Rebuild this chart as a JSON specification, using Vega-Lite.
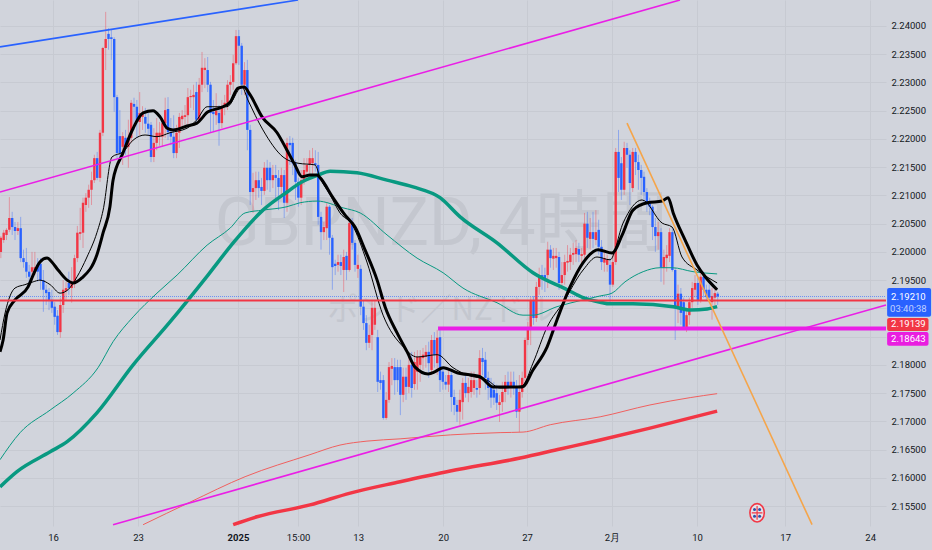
{
"$schema":"https://vega.github.io/schema/vega-lite/v6.json",
"width":886,"height":526,
"autosize":"none",
"padding":{"left":0,"top":0,"right":46,"bottom":24},
"background":"#d1d4dc",
"view":{"stroke":null},
"config":{"axis":{"labelFont":"Roboto","labelFontSize":9.5,"labelColor":"#131722"}},
"datasets":{
"candles":[
{"b":0,"o":2.2000,"h":2.2028,"l":2.1989,"c":2.2025},{"b":1,"o":2.2021,"h":2.2039,"l":2.2016,"c":2.2034},{"b":2,"o":2.2030,"h":2.2042,"l":2.2021,"c":2.2039},{"b":3,"o":2.2039,"h":2.2097,"l":2.2035,"c":2.2060},{"b":4,"o":2.2060,"h":2.2071,"l":2.2030,"c":2.2044},{"b":5,"o":2.2044,"h":2.2053,"l":2.2021,"c":2.2037},{"b":6,"o":2.2037,"h":2.2053,"l":2.2030,"c":2.2042},{"b":7,"o":2.2042,"h":2.2062,"l":2.1982,"c":2.1989},{"b":8,"o":2.1989,"h":2.2004,"l":2.1972,"c":2.1982},{"b":9,"o":2.1982,"h":2.2007,"l":2.1954,"c":2.1965},
{"b":10,"o":2.1965,"h":2.1977,"l":2.1945,"c":2.1956},{"b":11,"o":2.1965,"h":2.2000,"l":2.1950,"c":2.1973},{"b":12,"o":2.1968,"h":2.2000,"l":2.1959,"c":2.1973},{"b":13,"o":2.1977,"h":2.1989,"l":2.1947,"c":2.1965},{"b":14,"o":2.1979,"h":2.1989,"l":2.1933,"c":2.1950},{"b":15,"o":2.1950,"h":2.1968,"l":2.1894,"c":2.1933},{"b":16,"o":2.1933,"h":2.1942,"l":2.1906,"c":2.1927},{"b":17,"o":2.1929,"h":2.1936,"l":2.1897,"c":2.1915},{"b":18,"o":2.1915,"h":2.1933,"l":2.1892,"c":2.1901},{"b":19,"o":2.1903,"h":2.1911,"l":2.1871,"c":2.1885},
{"b":20,"o":2.1887,"h":2.1897,"l":2.1853,"c":2.1858},{"b":21,"o":2.1858,"h":2.1919,"l":2.1848,"c":2.1906},{"b":22,"o":2.1906,"h":2.1950,"l":2.1892,"c":2.1933},{"b":23,"o":2.1931,"h":2.1947,"l":2.1915,"c":2.1936},{"b":24,"o":2.1945,"h":2.1965,"l":2.1924,"c":2.1936},{"b":25,"o":2.1936,"h":2.1973,"l":2.1910,"c":2.1945},{"b":26,"o":2.1945,"h":2.1995,"l":2.1936,"c":2.1989},{"b":27,"o":2.1989,"h":2.2046,"l":2.1982,"c":2.2034},{"b":28,"o":2.2032,"h":2.2078,"l":2.2021,"c":2.2035},{"b":29,"o":2.2034,"h":2.2096,"l":2.2007,"c":2.2087},
{"b":30,"o":2.2083,"h":2.2104,"l":2.2071,"c":2.2096},{"b":31,"o":2.2096,"h":2.2119,"l":2.2078,"c":2.2110},{"b":32,"o":2.2110,"h":2.2142,"l":2.2083,"c":2.2127},{"b":33,"o":2.2127,"h":2.2172,"l":2.2122,"c":2.2166},{"b":34,"o":2.2166,"h":2.2177,"l":2.2127,"c":2.2131},{"b":35,"o":2.2131,"h":2.2216,"l":2.2124,"c":2.2211},{"b":36,"o":2.2211,"h":2.2363,"l":2.2205,"c":2.2361},{"b":37,"o":2.2361,"h":2.2425,"l":2.2322,"c":2.2377},{"b":38,"o":2.2386,"h":2.2396,"l":2.2358,"c":2.2377},{"b":39,"o":2.2380,"h":2.2393,"l":2.2340,"c":2.2377},
{"b":40,"o":2.2377,"h":2.2380,"l":2.2248,"c":2.2274},{"b":41,"o":2.2274,"h":2.2278,"l":2.2166,"c":2.2175},{"b":42,"o":2.2205,"h":2.2251,"l":2.2163,"c":2.2175},{"b":43,"o":2.2186,"h":2.2212,"l":2.2154,"c":2.2205},{"b":44,"o":2.2202,"h":2.2216,"l":2.2172,"c":2.2186},{"b":45,"o":2.2186,"h":2.2234,"l":2.2149,"c":2.2202},{"b":46,"o":2.2202,"h":2.2269,"l":2.2193,"c":2.2264},{"b":47,"o":2.2262,"h":2.2273,"l":2.2216,"c":2.2257},{"b":48,"o":2.2257,"h":2.2269,"l":2.2202,"c":2.2230},{"b":49,"o":2.2230,"h":2.2283,"l":2.2207,"c":2.2246},
{"b":50,"o":2.2239,"h":2.2258,"l":2.2216,"c":2.2246},{"b":51,"o":2.2239,"h":2.2255,"l":2.2211,"c":2.2227},{"b":52,"o":2.2227,"h":2.2248,"l":2.2207,"c":2.2218},{"b":53,"o":2.2225,"h":2.2230,"l":2.2159,"c":2.2168},{"b":54,"o":2.2168,"h":2.2219,"l":2.2159,"c":2.2193},{"b":55,"o":2.2193,"h":2.2237,"l":2.2180,"c":2.2211},{"b":56,"o":2.2205,"h":2.2230,"l":2.2188,"c":2.2211},{"b":57,"o":2.2204,"h":2.2237,"l":2.2186,"c":2.2228},{"b":58,"o":2.2228,"h":2.2273,"l":2.2202,"c":2.2251},{"b":59,"o":2.2253,"h":2.2274,"l":2.2198,"c":2.2212},
{"b":60,"o":2.2212,"h":2.2237,"l":2.2189,"c":2.2204},{"b":61,"o":2.2204,"h":2.2242,"l":2.2166,"c":2.2175},{"b":62,"o":2.2175,"h":2.2225,"l":2.2166,"c":2.2211},{"b":63,"o":2.2211,"h":2.2246,"l":2.2184,"c":2.2239},{"b":64,"o":2.2235,"h":2.2251,"l":2.2219,"c":2.2241},{"b":65,"o":2.2239,"h":2.2260,"l":2.2225,"c":2.2242},{"b":66,"o":2.2242,"h":2.2290,"l":2.2225,"c":2.2274},{"b":67,"o":2.2274,"h":2.2287,"l":2.2255,"c":2.2276},{"b":68,"o":2.2274,"h":2.2296,"l":2.2251,"c":2.2278},{"b":69,"o":2.2283,"h":2.2301,"l":2.2225,"c":2.2234},
{"b":70,"o":2.2234,"h":2.2308,"l":2.2230,"c":2.2296},{"b":71,"o":2.2296,"h":2.2354,"l":2.2283,"c":2.2326},{"b":72,"o":2.2322,"h":2.2343,"l":2.2290,"c":2.2326},{"b":73,"o":2.2322,"h":2.2345,"l":2.2283,"c":2.2296},{"b":74,"o":2.2296,"h":2.2301,"l":2.2212,"c":2.2246},{"b":75,"o":2.2248,"h":2.2269,"l":2.2212,"c":2.2244},{"b":76,"o":2.2242,"h":2.2281,"l":2.2225,"c":2.2250},{"b":77,"o":2.2246,"h":2.2260,"l":2.2188,"c":2.2228},{"b":78,"o":2.2228,"h":2.2269,"l":2.2219,"c":2.2257},{"b":79,"o":2.2257,"h":2.2278,"l":2.2242,"c":2.2264},
{"b":80,"o":2.2264,"h":2.2304,"l":2.2251,"c":2.2296},{"b":81,"o":2.2296,"h":2.2313,"l":2.2278,"c":2.2301},{"b":82,"o":2.2301,"h":2.2349,"l":2.2287,"c":2.2334},{"b":83,"o":2.2334,"h":2.2393,"l":2.2331,"c":2.2382},{"b":84,"o":2.2382,"h":2.2393,"l":2.2331,"c":2.2365},{"b":85,"o":2.2365,"h":2.2370,"l":2.2278,"c":2.2296},{"b":86,"o":2.2296,"h":2.2336,"l":2.2278,"c":2.2322},{"b":87,"o":2.2322,"h":2.2340,"l":2.2180,"c":2.2216},{"b":88,"o":2.2216,"h":2.2225,"l":2.2083,"c":2.2106},{"b":89,"o":2.2106,"h":2.2140,"l":2.2069,"c":2.2113},
{"b":90,"o":2.2113,"h":2.2142,"l":2.2092,"c":2.2127},{"b":91,"o":2.2127,"h":2.2142,"l":2.2096,"c":2.2113},{"b":92,"o":2.2115,"h":2.2131,"l":2.2083,"c":2.2108},{"b":93,"o":2.2108,"h":2.2159,"l":2.2101,"c":2.2149},{"b":94,"o":2.2149,"h":2.2163,"l":2.2110,"c":2.2127},{"b":95,"o":2.2149,"h":2.2159,"l":2.2106,"c":2.2127},{"b":96,"o":2.2127,"h":2.2154,"l":2.2113,"c":2.2136},{"b":97,"o":2.2136,"h":2.2154,"l":2.2092,"c":2.2131},{"b":98,"o":2.2131,"h":2.2145,"l":2.2074,"c":2.2115},{"b":99,"o":2.2115,"h":2.2149,"l":2.2101,"c":2.2136},
{"b":100,"o":2.2136,"h":2.2145,"l":2.2060,"c":2.2087},{"b":101,"o":2.2087,"h":2.2202,"l":2.2071,"c":2.2193},{"b":102,"o":2.2193,"h":2.2205,"l":2.2154,"c":2.2189},{"b":103,"o":2.2193,"h":2.2202,"l":2.2136,"c":2.2157},{"b":104,"o":2.2157,"h":2.2163,"l":2.2092,"c":2.2124},{"b":105,"o":2.2124,"h":2.2131,"l":2.2080,"c":2.2096},{"b":106,"o":2.2096,"h":2.2145,"l":2.2083,"c":2.2127},{"b":107,"o":2.2127,"h":2.2166,"l":2.2119,"c":2.2145},{"b":108,"o":2.2142,"h":2.2166,"l":2.2127,"c":2.2154},{"b":109,"o":2.2154,"h":2.2180,"l":2.2131,"c":2.2166},
{"b":110,"o":2.2157,"h":2.2184,"l":2.2131,"c":2.2166},{"b":111,"o":2.2157,"h":2.2180,"l":2.2142,"c":2.2154},{"b":112,"o":2.2154,"h":2.2177,"l":2.2048,"c":2.2062},{"b":113,"o":2.2062,"h":2.2071,"l":2.2004,"c":2.2035},{"b":114,"o":2.2035,"h":2.2053,"l":2.2021,"c":2.2044},{"b":115,"o":2.2042,"h":2.2087,"l":2.2021,"c":2.2080},{"b":116,"o":2.2080,"h":2.2083,"l":2.1995,"c":2.2025},{"b":117,"o":2.2025,"h":2.2030,"l":2.1933,"c":2.1973},{"b":118,"o":2.1979,"h":2.1986,"l":2.1959,"c":2.1975},{"b":119,"o":2.1977,"h":2.1995,"l":2.1965,"c":2.1982},
{"b":120,"o":2.1982,"h":2.1995,"l":2.1959,"c":2.1975},{"b":121,"o":2.1968,"h":2.2004,"l":2.1929,"c":2.1991},{"b":122,"o":2.1993,"h":2.2000,"l":2.1950,"c":2.1968},{"b":123,"o":2.1968,"h":2.2060,"l":2.1965,"c":2.2051},{"b":124,"o":2.2053,"h":2.2060,"l":2.2004,"c":2.2016},{"b":125,"o":2.2016,"h":2.2021,"l":2.1965,"c":2.1977},{"b":126,"o":2.1970,"h":2.1995,"l":2.1954,"c":2.1977},{"b":127,"o":2.1970,"h":2.1977,"l":2.1888,"c":2.1903},{"b":128,"o":2.1903,"h":2.1915,"l":2.1862,"c":2.1874},{"b":129,"o":2.1874,"h":2.1888,"l":2.1826,"c":2.1839},
{"b":130,"o":2.1839,"h":2.1871,"l":2.1830,"c":2.1853},{"b":131,"o":2.1853,"h":2.1915,"l":2.1826,"c":2.1901},{"b":132,"o":2.1871,"h":2.1915,"l":2.1862,"c":2.1901},{"b":133,"o":2.1849,"h":2.1862,"l":2.1752,"c":2.1770},{"b":134,"o":2.1773,"h":2.1788,"l":2.1756,"c":2.1768},{"b":135,"o":2.1773,"h":2.1782,"l":2.1703,"c":2.1706},{"b":136,"o":2.1706,"h":2.1752,"l":2.1703,"c":2.1738},{"b":137,"o":2.1738,"h":2.1805,"l":2.1733,"c":2.1796},{"b":138,"o":2.1793,"h":2.1812,"l":2.1764,"c":2.1798},{"b":139,"o":2.1796,"h":2.1812,"l":2.1747,"c":2.1773},
{"b":140,"o":2.1796,"h":2.1809,"l":2.1752,"c":2.1773},{"b":141,"o":2.1796,"h":2.1809,"l":2.1711,"c":2.1747},{"b":142,"o":2.1747,"h":2.1795,"l":2.1734,"c":2.1779},{"b":143,"o":2.1779,"h":2.1795,"l":2.1738,"c":2.1761},{"b":144,"o":2.1761,"h":2.1818,"l":2.1750,"c":2.1800},{"b":145,"o":2.1800,"h":2.1823,"l":2.1742,"c":2.1759},{"b":146,"o":2.1766,"h":2.1823,"l":2.1756,"c":2.1805},{"b":147,"o":2.1788,"h":2.1826,"l":2.1756,"c":2.1814},{"b":148,"o":2.1800,"h":2.1826,"l":2.1770,"c":2.1814},{"b":149,"o":2.1812,"h":2.1830,"l":2.1791,"c":2.1818},
{"b":150,"o":2.1814,"h":2.1835,"l":2.1795,"c":2.1823},{"b":151,"o":2.1823,"h":2.1841,"l":2.1777,"c":2.1803},{"b":152,"o":2.1791,"h":2.1853,"l":2.1782,"c":2.1844},{"b":153,"o":2.1844,"h":2.1858,"l":2.1795,"c":2.1818},{"b":154,"o":2.1803,"h":2.1862,"l":2.1782,"c":2.1848},{"b":155,"o":2.1849,"h":2.1862,"l":2.1752,"c":2.1773},{"b":156,"o":2.1788,"h":2.1795,"l":2.1756,"c":2.1770},{"b":157,"o":2.1770,"h":2.1782,"l":2.1756,"c":2.1765},{"b":158,"o":2.1765,"h":2.1795,"l":2.1752,"c":2.1782},{"b":159,"o":2.1782,"h":2.1791,"l":2.1717,"c":2.1743},
{"b":160,"o":2.1743,"h":2.1756,"l":2.1711,"c":2.1729},{"b":161,"o":2.1729,"h":2.1738,"l":2.1699,"c":2.1717},{"b":162,"o":2.1717,"h":2.1756,"l":2.1694,"c":2.1738},{"b":163,"o":2.1734,"h":2.1777,"l":2.1703,"c":2.1768},{"b":164,"o":2.1768,"h":2.1782,"l":2.1742,"c":2.1750},{"b":165,"o":2.1750,"h":2.1777,"l":2.1734,"c":2.1761},{"b":166,"o":2.1752,"h":2.1788,"l":2.1742,"c":2.1773},{"b":167,"o":2.1759,"h":2.1788,"l":2.1747,"c":2.1773},{"b":168,"o":2.1759,"h":2.1773,"l":2.1742,"c":2.1756},{"b":169,"o":2.1759,"h":2.1826,"l":2.1747,"c":2.1812},
{"b":170,"o":2.1812,"h":2.1830,"l":2.1782,"c":2.1805},{"b":171,"o":2.1809,"h":2.1823,"l":2.1756,"c":2.1777},{"b":172,"o":2.1777,"h":2.1788,"l":2.1738,"c":2.1759},{"b":173,"o":2.1761,"h":2.1777,"l":2.1724,"c":2.1742},{"b":174,"o":2.1756,"h":2.1770,"l":2.1729,"c":2.1742},{"b":175,"o":2.1750,"h":2.1765,"l":2.1720,"c":2.1733},{"b":176,"o":2.1729,"h":2.1747,"l":2.1699,"c":2.1734},{"b":177,"o":2.1734,"h":2.1770,"l":2.1717,"c":2.1752},{"b":178,"o":2.1752,"h":2.1782,"l":2.1734,"c":2.1770},{"b":179,"o":2.1770,"h":2.1788,"l":2.1747,"c":2.1761},
{"b":180,"o":2.1759,"h":2.1788,"l":2.1742,"c":2.1770},{"b":181,"o":2.1770,"h":2.1788,"l":2.1747,"c":2.1759},{"b":182,"o":2.1759,"h":2.1773,"l":2.1706,"c":2.1717},{"b":183,"o":2.1717,"h":2.1782,"l":2.1681,"c":2.1752},{"b":184,"o":2.1752,"h":2.1788,"l":2.1742,"c":2.1777},{"b":185,"o":2.1777,"h":2.1848,"l":2.1770,"c":2.1844},{"b":186,"o":2.1844,"h":2.1876,"l":2.1835,"c":2.1865},{"b":187,"o":2.1867,"h":2.1920,"l":2.1835,"c":2.1915},{"b":188,"o":2.1915,"h":2.1922,"l":2.1871,"c":2.1883},{"b":189,"o":2.1883,"h":2.1947,"l":2.1876,"c":2.1938},
{"b":190,"o":2.1938,"h":2.1972,"l":2.1924,"c":2.1959},{"b":191,"o":2.1959,"h":2.1977,"l":2.1933,"c":2.1956},{"b":192,"o":2.1959,"h":2.1972,"l":2.1929,"c":2.1952},{"b":193,"o":2.1959,"h":2.2018,"l":2.1936,"c":2.2004},{"b":194,"o":2.2004,"h":2.2012,"l":2.1972,"c":2.1989},{"b":195,"o":2.1988,"h":2.2007,"l":2.1968,"c":2.1993},{"b":196,"o":2.1989,"h":2.2007,"l":2.1972,"c":2.1993},{"b":197,"o":2.1991,"h":2.2000,"l":2.1933,"c":2.1945},{"b":198,"o":2.1945,"h":2.1982,"l":2.1936,"c":2.1959},{"b":199,"o":2.1959,"h":2.1995,"l":2.1942,"c":2.1982},
{"b":200,"o":2.1981,"h":2.2012,"l":2.1965,"c":2.1984},{"b":201,"o":2.1982,"h":2.2007,"l":2.1968,"c":2.1995},{"b":202,"o":2.1995,"h":2.2016,"l":2.1977,"c":2.1998},{"b":203,"o":2.1996,"h":2.2021,"l":2.1982,"c":2.2007},{"b":204,"o":2.2005,"h":2.2016,"l":2.1982,"c":2.1995},{"b":205,"o":2.1993,"h":2.2007,"l":2.1977,"c":2.1996},{"b":206,"o":2.1995,"h":2.2069,"l":2.1982,"c":2.2050},{"b":207,"o":2.2050,"h":2.2071,"l":2.2007,"c":2.2025},{"b":208,"o":2.2023,"h":2.2060,"l":2.2004,"c":2.2035},{"b":209,"o":2.2035,"h":2.2071,"l":2.2007,"c":2.2023},
{"b":210,"o":2.2021,"h":2.2074,"l":2.2012,"c":2.2035},{"b":211,"o":2.2039,"h":2.2057,"l":2.1995,"c":2.2009},{"b":212,"o":2.2009,"h":2.2021,"l":2.1968,"c":2.1982},{"b":213,"o":2.1981,"h":2.2004,"l":2.1965,"c":2.1989},{"b":214,"o":2.1977,"h":2.1995,"l":2.1965,"c":2.1986},{"b":215,"o":2.1977,"h":2.1989,"l":2.1910,"c":2.1942},{"b":216,"o":2.1942,"h":2.1995,"l":2.1938,"c":2.1982},{"b":217,"o":2.1982,"h":2.2184,"l":2.1977,"c":2.2177},{"b":218,"o":2.2177,"h":2.2216,"l":2.2106,"c":2.2131},{"b":219,"o":2.2157,"h":2.2168,"l":2.2092,"c":2.2110},
{"b":220,"o":2.2110,"h":2.2195,"l":2.2101,"c":2.2184},{"b":221,"o":2.2184,"h":2.2193,"l":2.2149,"c":2.2172},{"b":222,"o":2.2172,"h":2.2180,"l":2.2083,"c":2.2122},{"b":223,"o":2.2113,"h":2.2184,"l":2.2106,"c":2.2177},{"b":224,"o":2.2177,"h":2.2184,"l":2.2136,"c":2.2159},{"b":225,"o":2.2159,"h":2.2172,"l":2.2110,"c":2.2145},{"b":226,"o":2.2145,"h":2.2154,"l":2.2101,"c":2.2131},{"b":227,"o":2.2133,"h":2.2142,"l":2.2083,"c":2.2106},{"b":228,"o":2.2106,"h":2.2113,"l":2.2071,"c":2.2088},{"b":229,"o":2.2088,"h":2.2096,"l":2.2065,"c":2.2080},
{"b":230,"o":2.2080,"h":2.2083,"l":2.2021,"c":2.2044},{"b":231,"o":2.2044,"h":2.2060,"l":2.2000,"c":2.2028},{"b":232,"o":2.2028,"h":2.2053,"l":2.2004,"c":2.2035},{"b":233,"o":2.2035,"h":2.2042,"l":2.1947,"c":2.1972},{"b":234,"o":2.1972,"h":2.2004,"l":2.1942,"c":2.1991},{"b":235,"o":2.1989,"h":2.2012,"l":2.1965,"c":2.1995},{"b":236,"o":2.1993,"h":2.2042,"l":2.1982,"c":2.2035},{"b":237,"o":2.2035,"h":2.2042,"l":2.1965,"c":2.1968},{"b":238,"o":2.1968,"h":2.1972,"l":2.1844,"c":2.1901},{"b":239,"o":2.1901,"h":2.1942,"l":2.1874,"c":2.1926},
{"b":240,"o":2.1926,"h":2.1936,"l":2.1871,"c":2.1892},{"b":241,"o":2.1911,"h":2.1919,"l":2.1862,"c":2.1867},{"b":242,"o":2.1867,"h":2.1897,"l":2.1858,"c":2.1888},{"b":243,"o":2.1888,"h":2.1919,"l":2.1871,"c":2.1911},{"b":244,"o":2.1911,"h":2.1947,"l":2.1901,"c":2.1936},{"b":245,"o":2.1933,"h":2.1959,"l":2.1919,"c":2.1945},{"b":246,"o":2.1945,"h":2.1954,"l":2.1906,"c":2.1915},{"b":247,"o":2.1915,"h":2.1965,"l":2.1910,"c":2.1956},{"b":248,"o":2.1956,"h":2.1965,"l":2.1919,"c":2.1933},{"b":249,"o":2.1933,"h":2.1942,"l":2.1915,"c":2.1920},
{"b":250,"o":2.1933,"h":2.1942,"l":2.1910,"c":2.1919},{"b":251,"o":2.1911,"h":2.1936,"l":2.1880,"c":2.1922},{"b":252,"o":2.1919,"h":2.1936,"l":2.1906,"c":2.1927},{"b":253,"o":2.1926,"h":2.1929,"l":2.1906,"c":2.1921}
],
"lines":[
{"s":"ma200b","b":50.2,"p":2.1517},{"s":"ma200b","b":66.8,"p":2.1557},{"s":"ma200b","b":86.2,"p":2.1602},{"s":"ma200b","b":109.1,"p":2.1641},{"s":"ma200b","b":119.7,"p":2.1658},{"s":"ma200b","b":129.2,"p":2.1665},{"s":"ma200b","b":140.9,"p":2.1669},{"s":"ma200b","b":158.6,"p":2.1676},{"s":"ma200b","b":176.2,"p":2.1680},{"s":"ma200b","b":184.3,"p":2.1681},{"s":"ma200b","b":193.9,"p":2.1694},{"s":"ma200b","b":211.5,"p":2.1708},{"s":"ma200b","b":229.1,"p":2.1729},{"s":"ma200b","b":243.3,"p":2.1742},{"s":"ma200b","b":252.8,"p":2.1749},
{"s":"ma200a","b":82,"p":2.1517},{"s":"ma200a","b":90.4,"p":2.1531},{"s":"ma200a","b":109.1,"p":2.1552},{"s":"ma200a","b":123.3,"p":2.1573},{"s":"ma200a","b":140.9,"p":2.1593},{"s":"ma200a","b":158.6,"p":2.1612},{"s":"ma200a","b":183.3,"p":2.1635},{"s":"ma200a","b":197.4,"p":2.1651},{"s":"ma200a","b":211.5,"p":2.1667},{"s":"ma200a","b":229.1,"p":2.1688},{"s":"ma200a","b":252.8,"p":2.1718},
{"s":"ma75b","b":-0.3,"p":2.1632},{"s":"ma75b","b":6.8,"p":2.1680},{"s":"ma75b","b":17.4,"p":2.1720},{"s":"ma75b","b":25.5,"p":2.1750},{"s":"ma75b","b":34.3,"p":2.1795},{"s":"ma75b","b":39.6,"p":2.1841},{"s":"ma75b","b":46.7,"p":2.1885},{"s":"ma75b","b":55.1,"p":2.1927},{"s":"ma75b","b":62.2,"p":2.1959},{"s":"ma75b","b":72.8,"p":2.2012},{"s":"ma75b","b":80.9,"p":2.2042},{"s":"ma75b","b":86.2,"p":2.2069},{"s":"ma75b","b":92.5,"p":2.2074},{"s":"ma75b","b":101,"p":2.2080},{"s":"ma75b","b":105.6,"p":2.2087},{"s":"ma75b","b":111.6,"p":2.2090},{"s":"ma75b","b":120.8,"p":2.2078},{"s":"ma75b","b":126.8,"p":2.2069},{"s":"ma75b","b":136.3,"p":2.2030},{"s":"ma75b","b":146.9,"p":2.1989},{"s":"ma75b","b":156.1,"p":2.1963},{"s":"ma75b","b":163.1,"p":2.1936},{"s":"ma75b","b":175.1,"p":2.1910},{"s":"ma75b","b":184.3,"p":2.1888},{"s":"ma75b","b":187.8,"p":2.1888},{"s":"ma75b","b":196.3,"p":2.1903},{"s":"ma75b","b":205.5,"p":2.1915},{"s":"ma75b","b":211.5,"p":2.1922},{"s":"ma75b","b":215.7,"p":2.1927},{"s":"ma75b","b":220.3,"p":2.1947},{"s":"ma75b","b":226.7,"p":2.1965},{"s":"ma75b","b":232.7,"p":2.1972},{"s":"ma75b","b":236.9,"p":2.1972},{"s":"ma75b","b":244.3,"p":2.1965},{"s":"ma75b","b":252.8,"p":2.1961},
{"s":"ma75a","b":-0.3,"p":2.1584},{"s":"ma75a","b":5.7,"p":2.1611},{"s":"ma75a","b":17.4,"p":2.1646},{"s":"ma75a","b":23.4,"p":2.1664},{"s":"ma75a","b":33.9,"p":2.1715},{"s":"ma75a","b":46.7,"p":2.1800},{"s":"ma75a","b":59.7,"p":2.1876},{"s":"ma75a","b":73.1,"p":2.1959},{"s":"ma75a","b":82,"p":2.2016},{"s":"ma75a","b":92.5,"p":2.2074},{"s":"ma75a","b":101,"p":2.2106},{"s":"ma75a","b":105.6,"p":2.2122},{"s":"ma75a","b":112,"p":2.2136},{"s":"ma75a","b":116.2,"p":2.2143},{"s":"ma75a","b":125.7,"p":2.2140},{"s":"ma75a","b":136.3,"p":2.2127},{"s":"ma75a","b":145.5,"p":2.2115},{"s":"ma75a","b":155,"p":2.2096},{"s":"ma75a","b":162.1,"p":2.2062},{"s":"ma75a","b":175.1,"p":2.2016},{"s":"ma75a","b":187.8,"p":2.1963},{"s":"ma75a","b":199.9,"p":2.1933},{"s":"ma75a","b":205.5,"p":2.1919},{"s":"ma75a","b":211.5,"p":2.1911},{"s":"ma75a","b":215,"p":2.1908},{"s":"ma75a","b":223.1,"p":2.1908},{"s":"ma75a","b":237.3,"p":2.1903},{"s":"ma75a","b":243.3,"p":2.1897},{"s":"ma75a","b":249.3,"p":2.1899},{"s":"ma75a","b":252.8,"p":2.1903},
{"s":"ma20b","b":-0.3,"p":2.1844},{"s":"ma20b","b":1.5,"p":2.1892},{"s":"ma20b","b":5,"p":2.1936},{"s":"ma20b","b":8.5,"p":2.1942},{"s":"ma20b","b":11.4,"p":2.1947},{"s":"ma20b","b":13.8,"p":2.1950},{"s":"ma20b","b":17.4,"p":2.1942},{"s":"ma20b","b":20.9,"p":2.1927},{"s":"ma20b","b":23.7,"p":2.1933},{"s":"ma20b","b":26.9,"p":2.1956},{"s":"ma20b","b":30.4,"p":2.1991},{"s":"ma20b","b":33.9,"p":2.2034},{"s":"ma20b","b":36.1,"p":2.2074},{"s":"ma20b","b":39.2,"p":2.2168},{"s":"ma20b","b":43.1,"p":2.2177},{"s":"ma20b","b":46.7,"p":2.2198},{"s":"ma20b","b":50.9,"p":2.2207},{"s":"ma20b","b":55.1,"p":2.2204},{"s":"ma20b","b":59.7,"p":2.2211},{"s":"ma20b","b":65.7,"p":2.2219},{"s":"ma20b","b":69.2,"p":2.2234},{"s":"ma20b","b":72.8,"p":2.2257},{"s":"ma20b","b":79.8,"p":2.2257},{"s":"ma20b","b":85.1,"p":2.2292},{"s":"ma20b","b":87.2,"p":2.2269},{"s":"ma20b","b":92.5,"p":2.2216},{"s":"ma20b","b":99.6,"p":2.2168},{"s":"ma20b","b":104.9,"p":2.2157},{"s":"ma20b","b":110.9,"p":2.2154},{"s":"ma20b","b":112.7,"p":2.2131},{"s":"ma20b","b":116.2,"p":2.2101},{"s":"ma20b","b":119.7,"p":2.2069},{"s":"ma20b","b":124,"p":2.2048},{"s":"ma20b","b":129.2,"p":2.1982},{"s":"ma20b","b":134.9,"p":2.1888},{"s":"ma20b","b":142,"p":2.1832},{"s":"ma20b","b":146.9,"p":2.1814},{"s":"ma20b","b":154,"p":2.1818},{"s":"ma20b","b":159.6,"p":2.1795},{"s":"ma20b","b":164.6,"p":2.1782},{"s":"ma20b","b":171.6,"p":2.1773},{"s":"ma20b","b":176.2,"p":2.1759},{"s":"ma20b","b":184,"p":2.1763},{"s":"ma20b","b":187.8,"p":2.1803},{"s":"ma20b","b":192.8,"p":2.1867},{"s":"ma20b","b":198.4,"p":2.1910},{"s":"ma20b","b":205.5,"p":2.1968},{"s":"ma20b","b":210.4,"p":2.1991},{"s":"ma20b","b":215,"p":2.1986},{"s":"ma20b","b":219.6,"p":2.2051},{"s":"ma20b","b":226.3,"p":2.2092},{"s":"ma20b","b":233.4,"p":2.2051},{"s":"ma20b","b":236.9,"p":2.2044},{"s":"ma20b","b":240.4,"p":2.1991},{"s":"ma20b","b":245.7,"p":2.1968},{"s":"ma20b","b":252.8,"p":2.1945},
{"s":"ma20a","b":-0.3,"p":2.1823},{"s":"ma20a","b":0.8,"p":2.1844},{"s":"ma20a","b":2.2,"p":2.1892},{"s":"ma20a","b":5,"p":2.1915},{"s":"ma20a","b":9.6,"p":2.1938},{"s":"ma20a","b":11.4,"p":2.1959},{"s":"ma20a","b":13.8,"p":2.1982},{"s":"ma20a","b":16.3,"p":2.1989},{"s":"ma20a","b":18,"p":2.1982},{"s":"ma20a","b":20.2,"p":2.1968},{"s":"ma20a","b":23.4,"p":2.1950},{"s":"ma20a","b":25.5,"p":2.1945},{"s":"ma20a","b":28.6,"p":2.1954},{"s":"ma20a","b":33.9,"p":2.1995},{"s":"ma20a","b":36.1,"p":2.2034},{"s":"ma20a","b":38.5,"p":2.2080},{"s":"ma20a","b":39.6,"p":2.2127},{"s":"ma20a","b":43.1,"p":2.2175},{"s":"ma20a","b":46.7,"p":2.2219},{"s":"ma20a","b":50.2,"p":2.2246},{"s":"ma20a","b":53.7,"p":2.2250},{"s":"ma20a","b":56.2,"p":2.2239},{"s":"ma20a","b":58.7,"p":2.2219},{"s":"ma20a","b":60.8,"p":2.2216},{"s":"ma20a","b":65.7,"p":2.2223},{"s":"ma20a","b":69.2,"p":2.2228},{"s":"ma20a","b":73.1,"p":2.2248},{"s":"ma20a","b":77.4,"p":2.2255},{"s":"ma20a","b":80.9,"p":2.2265},{"s":"ma20a","b":83.7,"p":2.2290},{"s":"ma20a","b":85.8,"p":2.2292},{"s":"ma20a","b":88,"p":2.2278},{"s":"ma20a","b":92.2,"p":2.2239},{"s":"ma20a","b":97.5,"p":2.2211},{"s":"ma20a","b":101,"p":2.2180},{"s":"ma20a","b":103.8,"p":2.2154},{"s":"ma20a","b":106.3,"p":2.2133},{"s":"ma20a","b":109.1,"p":2.2136},{"s":"ma20a","b":111.6,"p":2.2136},{"s":"ma20a","b":112.7,"p":2.2131},{"s":"ma20a","b":117.2,"p":2.2096},{"s":"ma20a","b":121.5,"p":2.2065},{"s":"ma20a","b":125,"p":2.2044},{"s":"ma20a","b":128.5,"p":2.2004},{"s":"ma20a","b":132.8,"p":2.1950},{"s":"ma20a","b":135.6,"p":2.1903},{"s":"ma20a","b":139.8,"p":2.1857},{"s":"ma20a","b":143.4,"p":2.1823},{"s":"ma20a","b":146.2,"p":2.1796},{"s":"ma20a","b":150.8,"p":2.1784},{"s":"ma20a","b":153.3,"p":2.1788},{"s":"ma20a","b":156.1,"p":2.1795},{"s":"ma20a","b":161,"p":2.1786},{"s":"ma20a","b":169.1,"p":2.1779},{"s":"ma20a","b":173.7,"p":2.1761},{"s":"ma20a","b":178.7,"p":2.1761},{"s":"ma20a","b":184,"p":2.1761},{"s":"ma20a","b":187.8,"p":2.1791},{"s":"ma20a","b":192.8,"p":2.1832},{"s":"ma20a","b":196.3,"p":2.1880},{"s":"ma20a","b":200.9,"p":2.1938},{"s":"ma20a","b":205.5,"p":2.1981},{"s":"ma20a","b":210.8,"p":2.2004},{"s":"ma20a","b":215.7,"p":2.1998},{"s":"ma20a","b":219.3,"p":2.2030},{"s":"ma20a","b":223.1,"p":2.2074},{"s":"ma20a","b":228.1,"p":2.2087},{"s":"ma20a","b":233.4,"p":2.2090},{"s":"ma20a","b":235.5,"p":2.2096},{"s":"ma20a","b":237.3,"p":2.2069},{"s":"ma20a","b":241.5,"p":2.2021},{"s":"ma20a","b":245.7,"p":2.1977},{"s":"ma20a","b":248.6,"p":2.1956},{"s":"ma20a","b":252.8,"p":2.1933},
{"s":"redh","b":-0.3,"p":2.19139},{"s":"redh","b":312.4,"p":2.19139},
{"s":"magh","b":154.3,"p":2.18643},{"s":"magh","b":312.4,"p":2.18643},
{"s":"chanA","b":-0.3,"p":2.2106},{"s":"chanA","b":239.7,"p":2.2446},
{"s":"chanB","b":39.6,"p":2.1517},{"s":"chanB","b":312.4,"p":2.1906},
{"s":"blue","b":-0.3,"p":2.2363},{"s":"blue","b":104.9,"p":2.2446},
{"s":"orange","b":221,"p":2.2228},{"s":"orange","b":286.3,"p":2.1517}
],
"last":[{"s":"last","b":-0.3,"p":2.1921},{"s":"last","b":312.4,"p":2.1921}],
"tags":[
{"b":312.8,"b2":328.3,"p":2.1936,"p2":2.1885,"col":"#2962ff"},
{"b":312.8,"b2":327.4,"p":2.1883,"p2":2.1860,"col":"#f23645"},
{"b":312.8,"b2":327.4,"p":2.1858,"p2":2.1834,"col":"#e91ee0"}
],
"tagText":[
{"b":320.3,"p":2.1920,"t":"2.19210","op":1},
{"b":320.3,"p":2.1899,"t":"03:40:38","op":0.7},
{"b":320.3,"p":2.1873,"t":"2.19139","op":1},
{"b":320.3,"p":2.1846,"t":"2.18643","op":1}
],
"mark1":[{"b":155.4,"p":2.2048,"t":"GBPNZD, 4時間"}],
"mark2":[{"b":155.4,"p":2.1896,"t":"ポンド／NZドル"}],
"flag":[{"b":266.9,"p":2.1538}],
"flagDots":[{"b":266,"p":2.1544},{"b":267.8,"p":2.1544},{"b":266,"p":2.1532},{"b":267.8,"p":2.1532}]
},
"encoding":{
"x":{"field":"b","type":"quantitative","title":null,"scale":{"domain":[-0.3,312.4],"nice":false,"zero":false,"padding":0},
"axis":{"values":[18.4,48.4,83.7,104.9,126.1,156.1,185.7,215.7,245.7,276.8,306.8],"labelExpr":"['16','23','2025','15:00','13','20','27','2月','10','17','24'][indexof([18.4,48.4,83.7,104.9,126.1,156.1,185.7,215.7,245.7,276.8,306.8],datum.value)]","labelFontWeight":{"condition":{"test":"datum.value==83.7","value":"bold"},"value":"normal"},"grid":true,"gridColor":"#c7cad2","domain":false,"ticks":false,"labelPadding":6,"labelFlush":false,"labelOverlap":false}},
"y":{"field":"p","type":"quantitative","title":null,"scale":{"domain":[2.15147,2.2446],"nice":false,"zero":false},
"axis":{"orient":"right","values":[2.155,2.16,2.165,2.17,2.175,2.18,2.185,2.19,2.195,2.2,2.205,2.21,2.215,2.22,2.225,2.23,2.235,2.24],"format":".5f","grid":true,"gridColor":"#c7cad2","domain":false,"ticks":false,"labelPadding":5,"labelOverlap":false}}
},
"layer":[
{"data":{"name":"mark1"},"mark":{"type":"text","font":"Roboto, Noto Sans CJK JP","fontSize":66,"color":"#c4c7cf"},"encoding":{"text":{"field":"t"}}},
{"data":{"name":"mark2"},"mark":{"type":"text","font":"Noto Sans CJK JP","fontSize":31,"color":"#c4c7cf"},"encoding":{"text":{"field":"t"}}},
{"data":{"name":"candles"},"mark":{"type":"rule","strokeWidth":1,"opacity":0.4},
"encoding":{"y":{"field":"l","type":"quantitative","title":null,"scale":{"domain":[2.15147,2.2446],"nice":false,"zero":false},"axis":{"orient":"right","values":[2.155,2.16,2.165,2.17,2.175,2.18,2.185,2.19,2.195,2.2,2.205,2.21,2.215,2.22,2.225,2.23,2.235,2.24],"format":".5f","grid":true,"gridColor":"#c7cad2","domain":false,"ticks":false,"labelPadding":5,"labelOverlap":false}},"y2":{"field":"h"},
"color":{"condition":{"test":"datum.c>=datum.o","value":"#f23645"},"value":"#2962ff"}}},
{"data":{"name":"candles"},"mark":{"type":"bar","size":2.4},
"encoding":{"y":{"field":"o","type":"quantitative","title":null,"scale":{"domain":[2.15147,2.2446],"nice":false,"zero":false},"axis":{"orient":"right","values":[2.155,2.16,2.165,2.17,2.175,2.18,2.185,2.19,2.195,2.2,2.205,2.21,2.215,2.22,2.225,2.23,2.235,2.24],"format":".5f","grid":true,"gridColor":"#c7cad2","domain":false,"ticks":false,"labelPadding":5,"labelOverlap":false}},"y2":{"field":"c"},
"color":{"condition":{"test":"datum.c>=datum.o","value":"#f23645"},"value":"#2962ff"}}},
{"data":{"name":"last"},"mark":{"type":"line","color":"#2962ff","strokeWidth":1,"strokeDash":[1,1],"opacity":0.6},"encoding":{}},
{"data":{"name":"lines"},"mark":{"type":"line","interpolate":"monotone"},
"encoding":{
"color":{"field":"s","type":"nominal","legend":null,"scale":{"domain":["ma200b","ma200a","ma75b","ma75a","ma20b","ma20a","redh","magh","chanA","chanB","blue","orange"],"range":["#f0605f","#f23645","#089981","#089981","#000000","#000000","#f23645","#ea1ee6","#ea1ee6","#ea1ee6","#2962ff","#f5a54a"]}},
"strokeWidth":{"field":"s","type":"ordinal","legend":null,"scale":{"type":"ordinal","domain":["ma200b","ma200a","ma75b","ma75a","ma20b","ma20a","redh","magh","chanA","chanB","blue","orange"],"range":[1,3.5,1,3.5,1,3,2,4,1.6,1.6,1.6,1.6]}}}},
{"data":{"name":"tags"},"mark":{"type":"rect","cornerRadius":2},"encoding":{"x2":{"field":"b2"},"y2":{"field":"p2"},"color":{"field":"col","type":"nominal","scale":null}}},
{"data":{"name":"tagText"},"mark":{"type":"text","font":"Roboto","fontSize":9.5,"color":"#ffffff"},"encoding":{"text":{"field":"t"},"opacity":{"field":"op","type":"quantitative","scale":null}}},
{"data":{"name":"flag"},"mark":{"type":"point","filled":true,"shape":"M -0.78 0 A 0.78 1 0 1 1 0.78 0 A 0.78 1 0 1 1 -0.78 0 Z","size":340,"fill":"#e3e4ea","stroke":"#f23645","strokeWidth":1.6,"opacity":1},"encoding":{}},
{"data":{"name":"flagDots"},"mark":{"type":"point","filled":true,"shape":"circle","size":9,"color":"#2f4fa8","opacity":1},"encoding":{}},
{"data":{"name":"flag"},"mark":{"type":"point","shape":"M -0.78 0 L 0.78 0 M 0 -1 L 0 1","size":190,"stroke":"#f23645","strokeWidth":1.2,"opacity":1},"encoding":{}}
]
}
